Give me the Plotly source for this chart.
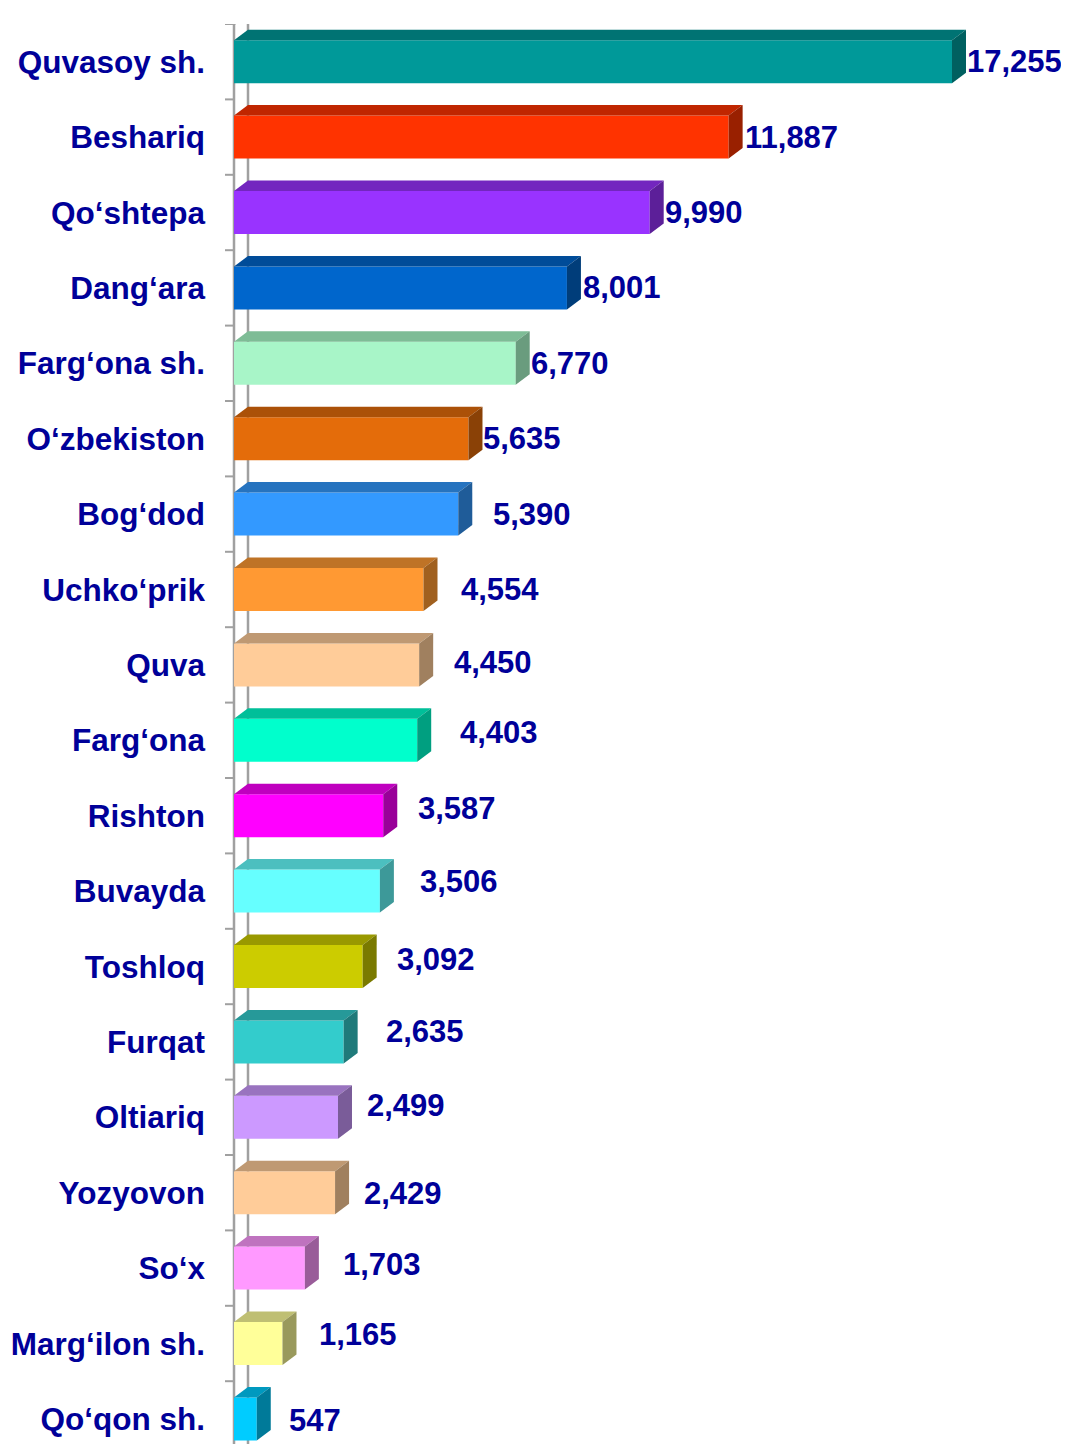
import plotly.graph_objects as go

categories = ["Quvasoy sh.", "Beshariq", "Qo‘shtepa", "Dang‘ara", "Farg‘ona sh.",
              "O‘zbekiston", "Bog‘dod", "Uchko‘prik", "Quva", "Farg‘ona", "Rishton",
              "Buvayda", "Toshloq", "Furqat", "Oltiariq", "Yozyovon", "So‘x",
              "Marg‘ilon sh.", "Qo‘qon sh."]
values = [17255, 11887, 9990, 8001, 6770, 5635, 5390, 4554, 4450, 4403, 3587,
          3506, 3092, 2635, 2499, 2429, 1703, 1165, 547]
value_labels = ["17,255", "11,887", "9,990", "8,001", "6,770", "5,635", "5,390", "4,554",
                "4,450", "4,403", "3,587", "3,506", "3,092", "2,635", "2,499", "2,429",
                "1,703", "1,165", "547"]

# styles (front, top, side)
front_colors = ["#009999", "#FF3300", "#9933FF", "#0066CC", "#A8F5C8", "#E46C0A", "#3399FF",
                "#FF9933", "#FFCC99", "#00FFCC", "#FF00FF", "#66FFFF", "#CCCC00", "#33CCCC",
                "#CC99FF", "#FFCC99", "#FF99FF", "#FFFF99", "#00CCFF"]
top_colors = ["#007373", "#C02600", "#7326BF", "#004C99", "#7EBC96", "#AB5108", "#2673BF",
              "#BF7326", "#BF9973", "#00BF99", "#BF00BF", "#4CBFBF", "#999900", "#269999",
              "#9973BF", "#BF9973", "#BF73BF", "#BFBF73", "#0099BF"]
side_colors = ["#006060", "#992000", "#5C1F99", "#003D7A", "#6A9C7E", "#8A4106", "#1F5C99",
               "#A0601F", "#A0805F", "#009F80", "#990099", "#3D9999", "#7A7A00", "#1F7A7A",
               "#7A5C99", "#A0805F", "#995C99", "#99995C", "#007A99"]
# label offsets in pixels (x from bar front end, y up)
label_dx = [15, 16, 15, 16, 15, 15, 35, 37, 35, 43, 35, 40, 34, 42, 29, 29, 38, 37, 32]
label_dy = [0, 0, 0, 0, 0, 0, 0, 0, 2, 8, 7, 10, 7, 10, 12, -1, 4, 9, -2]

W, H = 1053, 1436
ML, MT = 226, 16
plot_w = W - ML
px_per_unit = 718 / 17255
xmax = plot_w / px_per_unit
slot_px = 75.4
n = len(categories)
plot_h = H - MT
ytop = n - 0.5
ybot = ytop - plot_h / slot_px

dx = 14 / px_per_unit
dy = 10.5 / slot_px
bh = 43 / slot_px

pos = [n - 1 - i for i in range(n)]
FONT = dict(family="Liberation Sans", size=31.5, color="#000099", weight="bold")
VFONT = dict(family="Liberation Sans", size=31, color="#000099", weight="bold")

fig = go.Figure()
fig.add_trace(go.Bar(
    y=pos, x=values, orientation="h", width=bh,
    marker=dict(color=front_colors, line=dict(width=0)),
    hoverinfo="skip", showlegend=False,
))
for i in range(n):
    v, y = values[i], pos[i]
    yt = y + bh / 2
    yb = y - bh / 2
    fig.add_trace(go.Scatter(
        x=[0, v, v + dx, dx, 0], y=[yt, yt, yt + dy, yt + dy, yt],
        fill="toself", fillcolor=top_colors[i], mode="lines", line=dict(width=0),
        hoverinfo="skip", showlegend=False))
    fig.add_trace(go.Scatter(
        x=[v, v + dx, v + dx, v, v], y=[yb, yb + dy, yt + dy, yt, yb],
        fill="toself", fillcolor=side_colors[i], mode="lines", line=dict(width=0),
        hoverinfo="skip", showlegend=False))
    fig.add_annotation(x=v, y=y, text=value_labels[i], showarrow=False,
                       xanchor="left", yanchor="middle", borderpad=0,
                       xshift=label_dx[i] - 1, yshift=label_dy[i], font=VFONT)

axis_col = "#A0A0A0"
shapes = []
shapes.append(dict(type="line", xref="x", yref="y", x0=dx, x1=dx, y0=ytop + dy, y1=ybot,
                   line=dict(color=axis_col, width=2.5), layer="below"))
shapes.append(dict(type="line", xref="paper", yref="y", x0=0, x1=14 / plot_w, y0=ytop, y1=ytop + dy,
                   line=dict(color=axis_col, width=2.5), layer="below"))
shapes.append(dict(type="line", xref="paper", yref="y", x0=0, x1=0, y0=ytop, y1=ybot,
                   line=dict(color=axis_col, width=2.5), layer="below"))
for k in range(n + 1):
    yk = ytop - k
    shapes.append(dict(type="line", xref="paper", yref="y", x0=-9 / plot_w, x1=0,
                       y0=yk, y1=yk, line=dict(color=axis_col, width=2), layer="below"))

fig.update_layout(
    width=W, height=H,
    margin=dict(l=ML, r=0, t=MT, b=0),
    paper_bgcolor="white", plot_bgcolor="white",
    shapes=shapes,
    xaxis=dict(range=[0, xmax], showgrid=False, zeroline=False, showticklabels=False,
               showline=False, ticks=""),
    yaxis=dict(range=[ybot, ytop], tickmode="array", tickvals=pos, ticktext=categories,
               showgrid=False, zeroline=False, showline=False, ticks="",
               ticklabelstandoff=28, tickfont=FONT),
)
fig.update_traces(cliponaxis=False)
fig.write_html("out.html")
